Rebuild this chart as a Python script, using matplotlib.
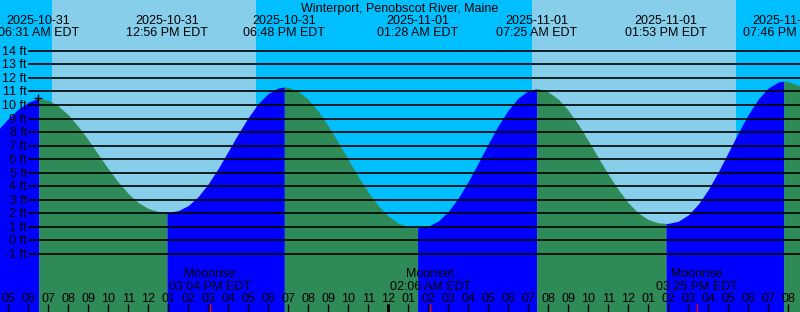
"""
Tide chart for Winterport, Penobscot River, Maine (2025-10-31 .. 2025-11-01).
Sky colour follows day/night, water colour follows rising (blue) / falling (green).
"""

import numpy as np
import pandas as pd
import matplotlib
matplotlib.use('Agg')
import matplotlib.pyplot as plt
import matplotlib.transforms as mtransforms

plt.rcParams['font.family'] = ['Liberation Sans', 'DejaVu Sans']

# ── Data ──────────────────────────────────────────────────────────────────────
STATION = 'Winterport, Penobscot River, Maine'
T0 = pd.Timestamp('2025-10-31 00:00')

EXTREME_TIMES = ['2025-10-31 06:31', '2025-10-31 12:56', '2025-10-31 18:48',
                 '2025-11-01 01:28', '2025-11-01 07:25', '2025-11-01 13:53',
                 '2025-11-01 19:46']
EXTREME_FT    = [10.48, 2.07, 11.33, 0.93, 11.20, 1.25, 11.76]
EXTREME_KIND  = ['H', 'L', 'H', 'L', 'H', 'L', 'H']

# water level every half hour (hours after 2025-10-31 00:00)
CURVE_HOURS = np.arange(4.5, 45.01, 0.5)
CURVE_FT = [
    8.20, 9.00, 9.70, 10.20, 10.48,                       # 04:30 - 06:30
    10.35, 9.93, 9.27, 8.41, 7.42, 6.34, 5.28, 4.30,      # 07:00 - 10:30
    3.45, 2.79, 2.35, 2.12, 2.07,                         # 11:00 - 13:00
    2.19, 2.57, 3.24, 4.18, 5.32, 6.59, 7.88, 9.08,       # 13:30 - 17:00
    10.11, 10.85, 11.26, 11.30,                           # 17:30 - 19:00
    11.01, 10.40, 9.53, 8.45, 7.23, 5.96, 4.70, 3.55,     # 19:30 - 23:00
    2.56, 1.79, 1.27, 0.99, 0.93,                         # 23:30 - 01:30
    1.04, 1.43, 2.13, 3.13, 4.35, 5.72, 7.13, 8.48,       # 02:00 - 05:30
    9.63, 10.52, 11.06, 11.20,                            # 06:00 - 07:30
    10.97, 10.43, 9.61, 8.56, 7.37, 6.11, 4.87, 3.74,     # 08:00 - 11:30
    2.77, 2.02, 1.53, 1.29, 1.25,                         # 12:00 - 14:00
    1.41, 1.88, 2.67, 3.75, 5.06, 6.50, 7.95, 9.30,       # 14:30 - 18:00
    10.44, 11.26, 11.70, 11.73, 11.45, 11.00,             # 18:30 - 21:00
]

SUNRISE = ['2025-10-31 07:10', '2025-11-01 07:11']
SUNSET  = ['2025-10-31 17:23', '2025-11-01 17:22']

MOON_EVENTS = ['Moonrise', 'Moonset', 'Moonrise']
MOON_TIMES  = ['2025-10-31 15:04', '2025-11-01 02:06', '2025-11-01 15:25']

NOW_TIME = '2025-10-31 06:28'
NOW_FT   = 10.48

FT_TICKS   = list(range(-1, 15))
HOUR_TICKS = list(range(5, 45))
MIDNIGHT   = 24

# ── Style ─────────────────────────────────────────────────────────────────────
NIGHT_SKY = '#00BFFF'
DAY_SKY   = '#87CEEB'
RISING    = '#0000FF'
FALLING   = '#2E8B57'
FS        = 9

W_PX, H_PX = 800, 312
X_START    = 4.585          # left edge of the view, hours after T0
X_SPAN     = 40.0
Y_BOTTOM, Y_TOP = -5.30, 17.76


def to_hours(stamps):
    return np.asarray((pd.to_datetime(stamps) - T0) / pd.Timedelta(hours=1), dtype=float)


def frac_y(px):
    # pixel row from the top -> axes fraction
    return 1 - px / H_PX


ext_h  = to_hours(EXTREME_TIMES)
rise_h = to_hours(SUNRISE)
set_h  = to_hours(SUNSET)
moon_h = to_hours(MOON_TIMES)
now_h  = to_hours([NOW_TIME])[0]

# ── Plot setup ────────────────────────────────────────────────────────────────
fig = plt.figure(figsize=(W_PX / 100, H_PX / 100), dpi=100)
ax = fig.add_axes([0, 0, 1, 1])
ax.set_xlim(X_START, X_START + X_SPAN)
ax.set_ylim(Y_BOTTOM, Y_TOP)
ax.axis('off')

x_data_y_axes = mtransforms.blended_transform_factory(ax.transData, ax.transAxes)
x_axes_y_data = mtransforms.blended_transform_factory(ax.transAxes, ax.transData)

# Sky: night everywhere, day between sunrise and sunset
ax.axvspan(X_START - 1, X_START + X_SPAN + 1, color=NIGHT_SKY, lw=0, zorder=0)
for r, s in zip(rise_h, set_h):
    ax.axvspan(r, s, color=DAY_SKY, lw=0, zorder=0)

# Water: curve samples + the extremes themselves
h_all  = np.concatenate([CURVE_HOURS, ext_h])
ft_all = np.concatenate([CURVE_FT, EXTREME_FT])
order  = np.argsort(h_all)
h_all, ft_all = h_all[order], ft_all[order]

bounds = [-np.inf] + list(ext_h) + [np.inf]
kinds  = list(EXTREME_KIND) + ['L' if EXTREME_KIND[-1] == 'H' else 'H']
for a, b, k in zip(bounds[:-1], bounds[1:], kinds):
    m = (h_all >= a) & (h_all <= b)
    ax.fill_between(h_all[m], ft_all[m], Y_BOTTOM,
                    color=RISING if k == 'H' else FALLING, lw=0, zorder=1)

# Height grid with labels
for ft in FT_TICKS:
    ax.axhline(ft, xmin=29 / W_PX, color='black', lw=1.2, zorder=3)
    ax.text(27 / W_PX, ft - 4 / 13.53, f'{ft} ft', transform=x_axes_y_data,
            ha='right', va='baseline', fontsize=FS, zorder=4)

# Current-time cross
ax.plot(now_h, NOW_FT, marker='+', color='black', ms=6, mew=1.0, zorder=5)

# ── Labels ────────────────────────────────────────────────────────────────────
ax.text(0.5, frac_y(11.7), STATION, transform=ax.transAxes,
        ha='center', va='baseline', fontsize=FS, zorder=6)

for h, ts in zip(ext_h, pd.to_datetime(EXTREME_TIMES)):
    ax.text(h, frac_y(24), ts.strftime('%Y-%m-%d'), transform=x_data_y_axes,
            ha='center', va='baseline', fontsize=FS, zorder=6)
    ax.text(h, frac_y(36), ts.strftime('%I:%M %p EDT'), transform=x_data_y_axes,
            ha='center', va='baseline', fontsize=FS, zorder=6)

# Moon events
for h, name, ts in zip(moon_h, MOON_EVENTS, pd.to_datetime(MOON_TIMES)):
    ax.text(h, frac_y(277.3), name, transform=x_data_y_axes,
            ha='center', va='baseline', fontsize=FS, zorder=6)
    ax.text(h, frac_y(290), ts.strftime('%I:%M %p EDT'), transform=x_data_y_axes,
            ha='center', va='baseline', fontsize=FS, zorder=6)

# Hour axis along the bottom
tick_top = frac_y(304)
for h in HOUR_TICKS:
    ax.text(h, frac_y(301.7), f'{(h - 1) % 12 + 1:02d}', transform=x_data_y_axes,
            ha='center', va='baseline', fontsize=FS, zorder=6)
ax.vlines(HOUR_TICKS, 0, tick_top, transform=x_data_y_axes,
          colors='black', lw=1.0, zorder=6)
ax.vlines([MIDNIGHT], 0, tick_top, transform=x_data_y_axes,
          colors='black', lw=2.2, zorder=6)
ax.vlines(moon_h, 0, tick_top, transform=x_data_y_axes,
          colors='red', lw=1.0, zorder=7)

fig.savefig('out.png', dpi=100)
